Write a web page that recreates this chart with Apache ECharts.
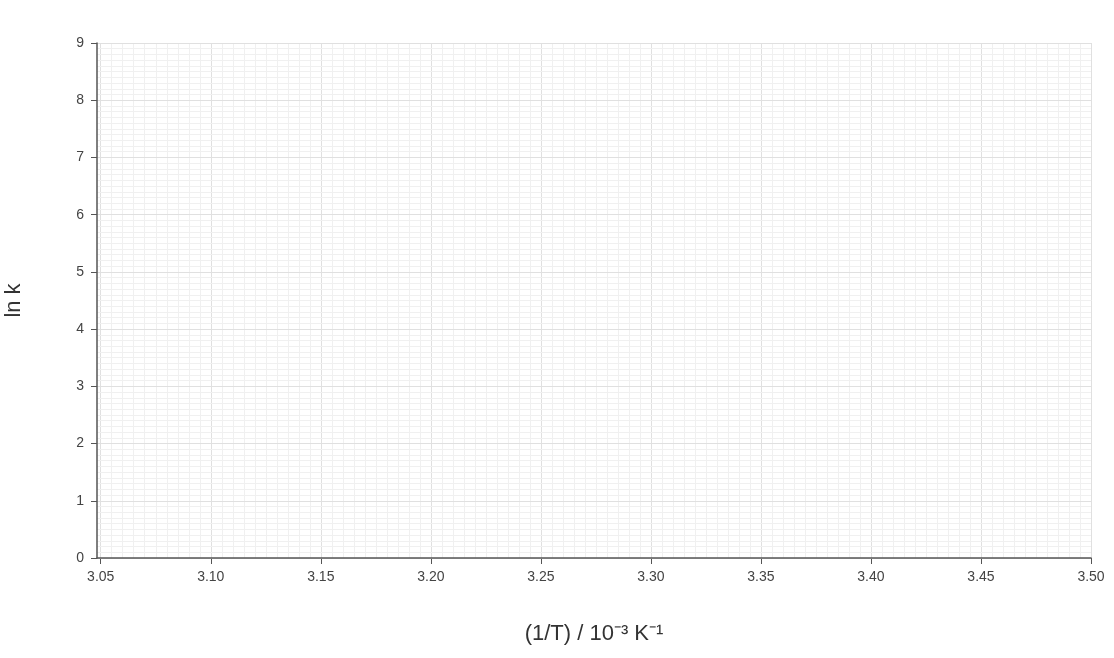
<!DOCTYPE html>
<html>
<head>
<meta charset="utf-8">
<script src="https://cdn.jsdelivr.net/npm/echarts@6/dist/echarts.min.js"></script>
<style>
  html, body { margin: 0; padding: 0; background: #fff; }
  #main { width: 1114px; height: 658px; }
</style>
</head>
<body>
<div id="main"></div>
<script>
var chart = echarts.init(document.getElementById('main'));

// axis ranges (the plot is an empty grid)
var xRange = [3.0483, 3.5];      // full plot extent
var xTickRange = [3.05, 3.5];    // labelled part
var xStep = 0.05;
var yRange = [0, 9];
var yStep = 1;
var points = [];                 // no data drawn in the reference

var font = 'Liberation Sans, Arial, sans-serif';
var scale = 2198.4; // px per unit, used only to place the tick grid
var offset = (xTickRange[0] - xRange[0]) * scale;

option = {
  animation: false,
  grid: [
    { left: 97, right: 23, top: 43, bottom: 100, outerBoundsMode: 'none' },
    { left: 97 + offset, right: 23, top: 43, bottom: 100, outerBoundsMode: 'none' }
  ],
  xAxis: [
    {
      type: 'value', gridIndex: 0, min: xRange[0], max: xRange[1], z: 3,
      axisLine: { show: true, lineStyle: { color: '#555', width: 1.5 } },
      axisTick: { show: false }, axisLabel: { show: false },
      splitLine: { show: false },
      name: '(1/T) / 10⁻³ K⁻¹', nameLocation: 'middle', nameGap: 65,
      nameTextStyle: { fontFamily: font, fontSize: 22, color: '#333' }
    },
    {
      type: 'value', gridIndex: 1, min: xTickRange[0], max: xTickRange[1], interval: xStep, z: 1,
      axisLine: { show: false },
      axisTick: { show: true, length: 6, lineStyle: { color: '#555', width: 1 } },
      axisLabel: { fontFamily: font, fontSize: 14, color: '#444', margin: 12,
        formatter: function (v) { return v.toFixed(2); } },
      splitLine: { show: true, lineStyle: { color: '#e0e0e0', width: 1 } },
      minorTick: { show: false, splitNumber: 10 },
      minorSplitLine: { show: true, lineStyle: { color: '#f0f0f0', width: 1 } }
    }
  ],
  yAxis: [
    {
      type: 'value', gridIndex: 0, min: yRange[0], max: yRange[1], interval: yStep, z: 2,
      axisLine: { show: true, lineStyle: { color: '#555', width: 1.5 } },
      axisTick: { show: true, length: 6, lineStyle: { color: '#555' } },
      axisLabel: { fontFamily: font, fontSize: 14, color: '#444', margin: 13 },
      splitLine: { show: true, lineStyle: { color: '#e0e0e0', width: 1 } },
      minorTick: { show: false, splitNumber: 10 },
      minorSplitLine: { show: true, lineStyle: { color: '#f0f0f0', width: 1 } },
      name: 'ln k', nameLocation: 'middle', nameGap: 72, nameRotate: 90,
      nameTextStyle: { fontFamily: font, fontSize: 22, color: '#333' }
    },
    {
      type: 'value', gridIndex: 1, min: yRange[0], max: yRange[1], show: false
    }
  ],
  series: [{
    type: 'scatter', xAxisIndex: 0, yAxisIndex: 0, data: points
  }]
};

chart.setOption(option);
</script>
</body>
</html>
